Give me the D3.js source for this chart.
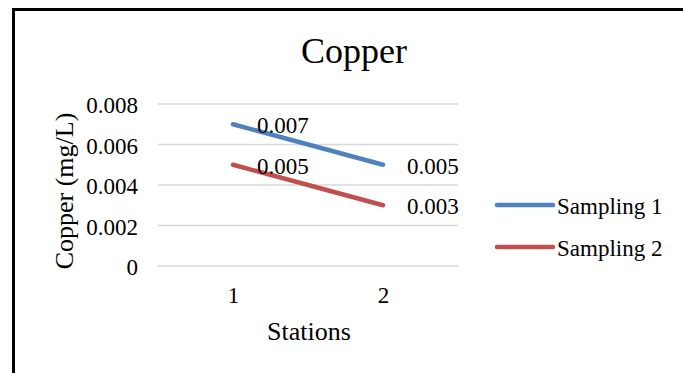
<!DOCTYPE html>
<html>
<head>
<meta charset="utf-8">
<script src="https://cdn.jsdelivr.net/npm/d3@7"></script>
<style>
  body { margin: 0; background: #fff; }
  svg { display: block; }
  svg text { font-family: "Liberation Serif", "Times New Roman", serif; fill: #000; }
</style>
</head>
<body>
<svg></svg>
<script>
// Data
const stations = ["1", "2"];
const sampling1 = [0.007, 0.005];
const sampling2 = [0.005, 0.003];
const seriesNames = ["Sampling 1", "Sampling 2"];
const yTicks = [0, 0.002, 0.004, 0.006, 0.008];

const series = [
  { name: seriesNames[0], values: sampling1, color: "#4F81BD" },
  { name: seriesNames[1], values: sampling2, color: "#C0504D" }
];

// Dimensions
const width = 683;
const height = 373;
const plot = { left: 158, right: 458, top: 104, bottom: 266 };

const svg = d3.select("svg")
              .attr("width", width)
              .attr("height", height);

svg.append("rect")
   .attr("width", width)
   .attr("height", height)
   .attr("fill", "#fff");

// Outer frame (right and bottom edges run off the picture)
svg.append("rect")
   .attr("x", 13.5)
   .attr("y", 9.5)
   .attr("width", width + 20)
   .attr("height", height + 20)
   .attr("fill", "none")
   .attr("stroke", "#000")
   .attr("stroke-width", 3);

// Scales
const xScale = d3.scalePoint()
                 .domain(stations)
                 .range([plot.left, plot.right])
                 .padding(0.5);

const yScale = d3.scaleLinear()
                 .domain([0, 0.008])
                 .range([plot.bottom, plot.top]);

// Gridlines
svg.append("g")
   .selectAll("line")
   .data(yTicks)
   .enter()
   .append("line")
   .attr("x1", plot.left)
   .attr("x2", plot.right)
   .attr("y1", d => yScale(d))
   .attr("y2", d => yScale(d))
   .attr("stroke", "#d9d9d9")
   .attr("stroke-width", 1.3);

// Y axis labels
const yAxis = d3.axisLeft(yScale)
                .tickValues(yTicks)
                .tickFormat(d => d === 0 ? "0" : d3.format(".3f")(d))
                .tickSize(0)
                .tickPadding(0);

svg.append("g")
   .attr("transform", "translate(138, 0)")
   .call(yAxis)
   .attr("font-family", null)
   .attr("font-size", 23)
   .call(g => g.select(".domain").remove())
   .call(g => g.selectAll("text").attr("dy", "0.38em"));

// X axis labels
const xAxis = d3.axisBottom(xScale)
                .tickSize(0)
                .tickPadding(0);

svg.append("g")
   .attr("transform", `translate(0, ${plot.bottom})`)
   .call(xAxis)
   .attr("font-family", null)
   .attr("font-size", 23)
   .call(g => g.select(".domain").remove())
   .call(g => g.selectAll("text").attr("dy", null).attr("y", 37));

// Lines
const line = d3.line()
               .x((d, i) => xScale(stations[i]))
               .y(d => yScale(d));

svg.selectAll(".series")
   .data(series)
   .enter()
   .append("path")
   .attr("class", "series")
   .attr("d", d => line(d.values))
   .attr("fill", "none")
   .attr("stroke", d => d.color)
   .attr("stroke-width", 4.5)
   .attr("stroke-linecap", "round");

// Data labels
series.forEach(s => {
  svg.append("g")
     .selectAll("text")
     .data(s.values)
     .enter()
     .append("text")
     .attr("x", (d, i) => xScale(stations[i]) + 24)
     .attr("y", d => yScale(d) + 9)
     .attr("font-size", 23)
     .text(d => d3.format(".3f")(d));
});

// Title
svg.append("text")
   .attr("x", 354)
   .attr("y", 63)
   .attr("text-anchor", "middle")
   .attr("font-size", 36)
   .text("Copper");

// Axis titles
svg.append("text")
   .attr("transform", "translate(73, 191) rotate(-90)")
   .attr("text-anchor", "middle")
   .attr("font-size", 26)
   .text("Copper (mg/L)");

svg.append("text")
   .attr("x", 309)
   .attr("y", 340)
   .attr("text-anchor", "middle")
   .attr("font-size", 26)
   .text("Stations");

// Legend
const legend = svg.selectAll(".legend")
                  .data(series)
                  .enter()
                  .append("g")
                  .attr("class", "legend")
                  .attr("transform", (d, i) => `translate(497, ${205 + i * 42})`);

legend.append("line")
      .attr("x1", 0)
      .attr("x2", 56)
      .attr("stroke", d => d.color)
      .attr("stroke-width", 4.5)
      .attr("stroke-linecap", "round");

legend.append("text")
      .attr("x", 60)
      .attr("y", 9)
      .attr("font-size", 23)
      .text(d => d.name);
</script>
</body>
</html>
